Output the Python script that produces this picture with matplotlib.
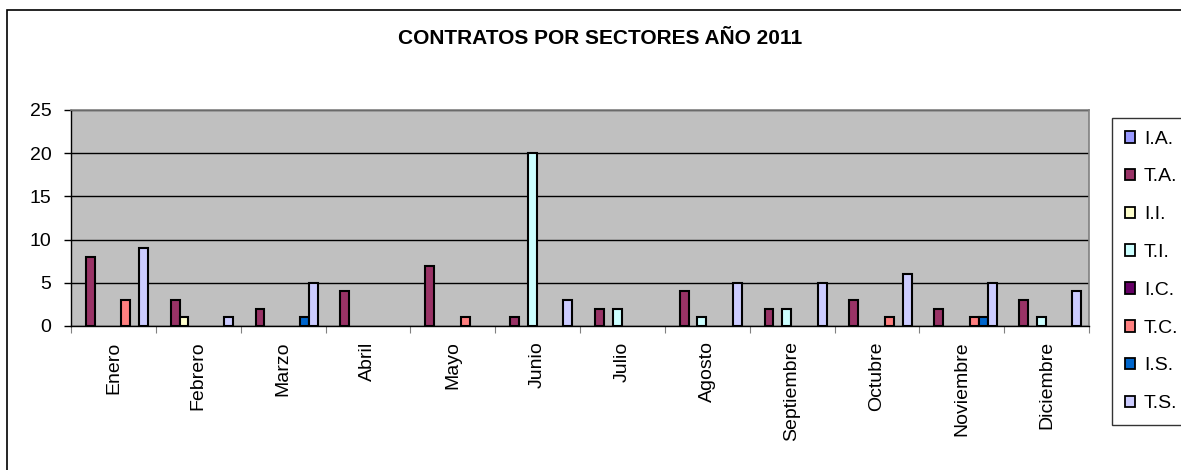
import numpy as np
import matplotlib.pyplot as plt
from matplotlib.patches import Rectangle

plt.rcParams['font.family'] = ['Liberation Sans', 'DejaVu Sans']

months = ["Enero", "Febrero", "Marzo", "Abril", "Mayo", "Junio", "Julio",
          "Agosto", "Septiembre", "Octubre", "Noviembre", "Diciembre"]
series = ["I.A.", "T.A.", "I.I.", "T.I.", "I.C.", "T.C.", "I.S.", "T.S."]

ia = [0, 0, 0, 0, 0, 0, 0, 0, 0, 0, 0, 0]
ta = [8, 3, 2, 4, 7, 1, 2, 4, 2, 3, 2, 3]
ii = [0, 1, 0, 0, 0, 0, 0, 0, 0, 0, 0, 0]
ti = [0, 0, 0, 0, 0, 20, 2, 1, 2, 0, 0, 1]
ic = [0, 0, 0, 0, 0, 0, 0, 0, 0, 0, 0, 0]
tc = [3, 0, 0, 0, 1, 0, 0, 0, 0, 1, 1, 0]
is_ = [0, 0, 1, 0, 0, 0, 0, 0, 0, 0, 1, 0]
ts = [9, 1, 5, 0, 0, 3, 0, 5, 5, 6, 5, 4]

colors = ["#9999FF", "#993366", "#FFFFCC", "#CCFFFF",
          "#660066", "#FF8080", "#0066CC", "#CCCCFF"]
data = [ia, ta, ii, ti, ic, tc, is_, ts]

fig = plt.figure(figsize=(11.81, 4.70), dpi=100)
ax = fig.add_axes([71 / 1181, 1 - 326 / 470, (1089 - 71) / 1181, (326 - 110) / 470])
ax.set_facecolor("#C0C0C0")

x = np.arange(len(months))
w = 0.105
off = 0.07
for k, (name, vals, col) in enumerate(zip(series, data, colors)):
    vals = np.array(vals)
    mask = vals > 0
    ax.bar(x[mask] + off + k * w, vals[mask], width=w, align="edge",
           color=col, edgecolor="black", linewidth=1.5, zorder=3)
    # legend proxy
    ax.bar([0], [0], width=0, color=col, edgecolor="black", linewidth=1.3, label=name)

ax.set_xlim(0, 12)
ax.set_ylim(0, 25)
ax.set_yticks([0, 5, 10, 15, 20, 25])
ax.yaxis.grid(True, color="black", linewidth=1, zorder=1)
ax.set_axisbelow(True)

ax.set_xticks(np.arange(0, 13))
ax.set_xticklabels([])
ax.set_xticks(x + 0.5, minor=True)
ax.set_xticklabels(months, minor=True, rotation=90, va="top", ha="center", fontsize=14)
ax.tick_params(axis="x", which="major", length=5, color="#808080", direction="out")
ax.tick_params(axis="x", which="minor", length=0, pad=11)
ax.tick_params(axis="y", length=5, width=1, labelsize=14, pad=9)

for s in ["top", "right"]:
    ax.spines[s].set_color("#808080")
    ax.spines[s].set_linewidth(1.2)
for s in ["left", "bottom"]:
    ax.spines[s].set_color("black")
    ax.spines[s].set_linewidth(1)

fig.text(600 / 1181, 1 - 39 / 470, "CONTRATOS POR SECTORES AÑO 2011",
         ha="center", va="center", fontsize=15, fontweight="bold")

leg = fig.legend(loc="upper left", bbox_to_anchor=(1112 / 1181, 1 - 118 / 470),
                 fontsize=14, frameon=True, fancybox=False, borderaxespad=0,
                 handlelength=0.55, handleheight=0.55, handletextpad=0.45,
                 labelspacing=1.07, borderpad=0.65)
leg.get_frame().set_edgecolor("black")
leg.get_frame().set_linewidth(1)

fig.patches.append(Rectangle((7 / 1181, -0.1), 1.2, 1 - 10 / 470 + 0.1,
                             transform=fig.transFigure, fill=False,
                             edgecolor="black", linewidth=1.2))

fig.savefig("out.png", dpi=100)
